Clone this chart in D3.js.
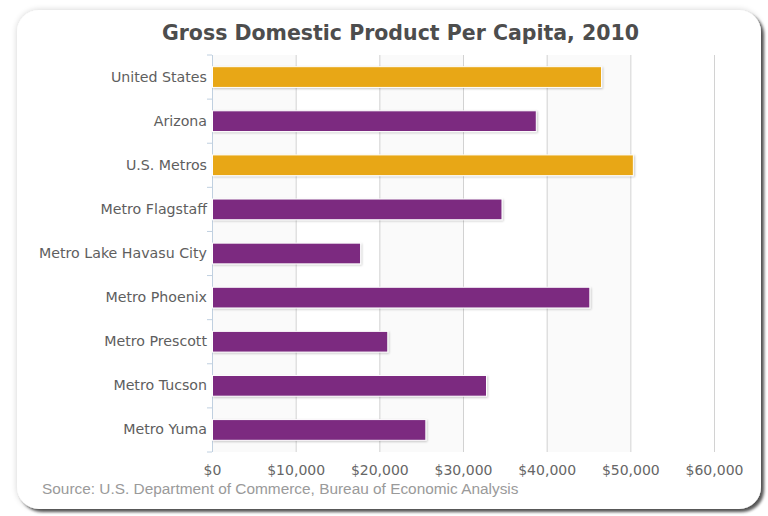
<!DOCTYPE html>
<html>
<head>
<meta charset="utf-8">
<script src="https://cdn.jsdelivr.net/npm/d3@7"></script>
<style>
  html, body { margin: 0; padding: 0; background: #ffffff; }
  svg { display: block; }
</style>
</head>
<body>
<svg id="chart" width="768" height="516"></svg>
<script>
// GDP per capita, 2010 (US dollars)
const categories = [
  "United States", "Arizona", "U.S. Metros", "Metro Flagstaff",
  "Metro Lake Havasu City", "Metro Phoenix", "Metro Prescott",
  "Metro Tucson", "Metro Yuma"
];
const gdpPerCapita = [46500, 38700, 50300, 34600, 17700, 45100, 20950, 32750, 25500];
// national benchmarks vs. Arizona geographies
const groups = ["national", "arizona", "national", "arizona", "arizona",
                "arizona", "arizona", "arizona", "arizona"];
const xTicks = [0, 10000, 20000, 30000, 40000, 50000, 60000];
const titleText = "Gross Domestic Product Per Capita, 2010";
const sourceText = "Source: U.S. Department of Commerce, Bureau of Economic Analysis";

const svg = d3.select("#chart");
const defs = svg.append("defs");

// card shadow: soft halo plus a darker offset shadow to the lower right
const cardShadow = defs.append("filter").attr("id", "cardShadow")
  .attr("x", "-5%").attr("y", "-5%").attr("width", "110%").attr("height", "110%");
cardShadow.append("feGaussianBlur").attr("in", "SourceAlpha").attr("stdDeviation", 3).attr("result", "halo");
cardShadow.append("feComponentTransfer").attr("in", "halo").attr("result", "haloSoft")
  .append("feFuncA").attr("type", "linear").attr("slope", 0.18);
cardShadow.append("feOffset").attr("in", "SourceAlpha").attr("dx", 3).attr("dy", 3).attr("result", "off");
cardShadow.append("feGaussianBlur").attr("in", "off").attr("stdDeviation", 1.5).attr("result", "offBlur");
cardShadow.append("feComponentTransfer").attr("in", "offBlur").attr("result", "offSoft")
  .append("feFuncA").attr("type", "linear").attr("slope", 0.65);
const cm = cardShadow.append("feMerge");
cm.append("feMergeNode").attr("in", "haloSoft");
cm.append("feMergeNode").attr("in", "offSoft");
cm.append("feMergeNode").attr("in", "SourceGraphic");

// small shadow under each bar
const barShadow = defs.append("filter").attr("id", "barShadow")
  .attr("x", "-5%").attr("y", "-30%").attr("width", "110%").attr("height", "160%");
barShadow.append("feOffset").attr("in", "SourceAlpha").attr("dx", 1).attr("dy", 1).attr("result", "o");
barShadow.append("feGaussianBlur").attr("in", "o").attr("stdDeviation", 1).attr("result", "b");
barShadow.append("feComponentTransfer").attr("in", "b").attr("result", "s")
  .append("feFuncA").attr("type", "linear").attr("slope", 0.22);
const bm = barShadow.append("feMerge");
bm.append("feMergeNode").attr("in", "s");
bm.append("feMergeNode").attr("in", "SourceGraphic");

// card
svg.append("rect")
  .attr("x", 17).attr("y", 10).attr("width", 744).attr("height", 499)
  .attr("rx", 22).attr("ry", 22)
  .attr("fill", "#ffffff")
  .attr("filter", "url(#cardShadow)");

const plot = { left: 212, right: 714, top: 55, bottom: 452 };

const x = d3.scaleLinear().domain([0, 60000]).range([plot.left, plot.right]);
const y = d3.scaleBand().domain(categories).range([plot.top, plot.bottom])
  .paddingInner(0.53).paddingOuter(0.265);
const color = d3.scaleOrdinal().domain(["national", "arizona"]).range(["#E8A714", "#7B2B80"]);

// alternating grid bands
const bandPairs = d3.pairs(xTicks).filter((_, i) => i % 2 === 0);
svg.append("g").selectAll("rect").data(bandPairs).join("rect")
  .attr("x", d => x(d[0]))
  .attr("width", d => x(d[1]) - x(d[0]))
  .attr("y", plot.top)
  .attr("height", plot.bottom - plot.top)
  .attr("fill", "#fafafa");

// value axis: gridlines and dollar labels
const xAxis = d3.axisBottom(x)
  .tickValues(xTicks)
  .tickSize(-(plot.bottom - plot.top))
  .tickPadding(13)
  .tickFormat(d => "$" + d3.format(",")(d));
const gx = svg.append("g")
  .attr("transform", `translate(0,${plot.bottom})`)
  .call(xAxis);
gx.select(".domain").remove();
gx.selectAll(".tick line").attr("stroke", "#d2d2d2").attr("stroke-width", 1)
  .filter(d => d === 0).remove();
gx.selectAll(".tick text")
  .attr("fill", "#666666")
  .style("font-family", "'DejaVu Sans', sans-serif")
  .style("font-size", "14px");

// category axis
const yAxis = d3.axisLeft(y).tickSize(0).tickPadding(5);
const gy = svg.append("g")
  .attr("transform", `translate(${plot.left},0)`)
  .call(yAxis);
gy.select(".domain").remove();
gy.selectAll(".tick text")
  .attr("fill", "#5e5e5e")
  .style("font-family", "'DejaVu Sans', sans-serif")
  .style("font-size", "14.2px");

// category tick marks on band boundaries, plus the axis line
const stepEdges = d3.range(categories.length + 1).map(i => plot.top + i * y.step());
svg.append("g").selectAll("line").data(stepEdges).join("line")
  .attr("x1", plot.left - 5).attr("x2", plot.left)
  .attr("y1", d => d).attr("y2", d => d)
  .attr("stroke", "#C0D0E0").attr("stroke-width", 1);
svg.append("line")
  .attr("x1", plot.left + 0.5).attr("x2", plot.left + 0.5)
  .attr("y1", plot.top).attr("y2", plot.bottom)
  .attr("stroke", "#C0D0E0").attr("stroke-width", 1);

// bars
svg.append("g").selectAll("rect").data(categories).join("rect")
  .attr("x", x(0) + 0.5)
  .attr("y", d => y(d))
  .attr("width", (d, i) => x(gdpPerCapita[i]) - x(0))
  .attr("height", y.bandwidth())
  .attr("fill", (d, i) => color(groups[i]))
  .attr("stroke", "#ffffff")
  .attr("stroke-width", 1)
  .attr("filter", "url(#barShadow)");

// title
svg.append("text")
  .attr("x", 400.5).attr("y", 39.5)
  .attr("text-anchor", "middle")
  .attr("fill", "#4d4d4d")
  .style("font-family", "'DejaVu Sans', sans-serif")
  .style("font-weight", "bold")
  .style("font-size", "20.5px")
  .text(titleText);

// source credit
svg.append("text")
  .attr("x", 42).attr("y", 493.5)
  .attr("fill", "#9a9a9a")
  .style("font-family", "'Liberation Sans', Arial, sans-serif")
  .style("font-size", "15.4px")
  .text(sourceText);
</script>
</body>
</html>
